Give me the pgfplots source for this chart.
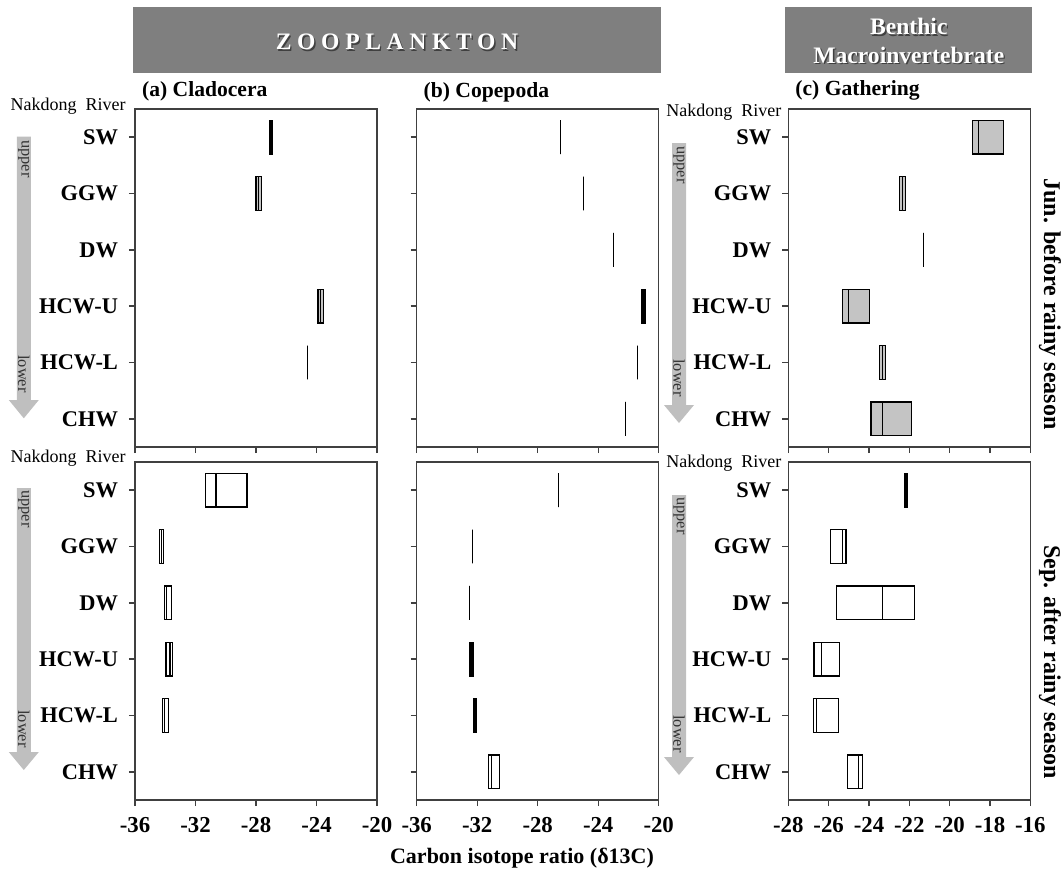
\documentclass[border=0pt]{standalone}
\usepackage{fontspec}
\setmainfont{Liberation Serif}
\newfontfamily\spaced[LetterSpace=24]{Liberation Serif}
\usepackage{pgfplots}
\pgfplotsset{compat=1.18}
\usepgfplotslibrary{statistics}

\definecolor{hdr}{HTML}{7F7F7F}
\definecolor{arrowgray}{HTML}{BFBFBF}
\definecolor{boxgray}{HTML}{C4C4C4}

% \bx[fill]{position}{lower quartile}{median}{upper quartile}
\newcommand{\bx}[5][white]{\addplot[draw=black,line width=0.6pt,fill=#1,
  boxplot prepared={draw position=#2,lower whisker=#3,lower quartile=#3,
  median=#4,upper quartile=#5,upper whisker=#5}] coordinates {};}

\newcommand{\riverarrow}[4]{% x, top, base, tip (pt)
  \fill[arrowgray] (#1pt-3.5pt,#2pt) -- (#1pt+3.5pt,#2pt) -- (#1pt+3.5pt,#3pt)
   -- (#1pt+7.5pt,#3pt) -- (#1pt,#4pt) -- (#1pt-7.5pt,#3pt) -- (#1pt-3.5pt,#3pt) -- cycle;}

\pgfplotsset{
  panel/.style={scale only axis, width=121pt, height=169pt,
    ymin=0.5, ymax=6.5, y dir=reverse, ytick={1,2,3,4,5,6},
    tick align=outside, xtick pos=bottom, ytick pos=left,
    major tick length=3pt,
    axis line style={draw=black!75,line width=0.7pt},
    tick style={draw=black!75,line width=0.7pt},
    yticklabel style={font=\fontsize{11.2}{12}\selectfont\bfseries, xshift=-2pt},
    xticklabel style={font=\fontsize{11.4}{12}\selectfont\bfseries, yshift=-2pt},
    boxplot/draw direction=x, boxplot/box extend=0.6,
    boxplot/whisker extend=0, boxplot/every whisker/.style={draw=none},
    clip=false},
  sites/.style={yticklabels={SW,GGW,DW,HCW-U,HCW-L,CHW}},
  nosites/.style={yticklabels={}},
  zoo/.style={xmin=-36,xmax=-20,xtick={-36,-32,-28,-24,-20}},
  zoolab/.style={xticklabels={-36,-32,-28,-24,-20}},
  ben/.style={xmin=-28,xmax=-16,xtick={-28,-26,-24,-22,-20,-18,-16}},
  benlab/.style={xticklabels={-28,-26,-24,-22,-20,-18,-16}},
  nolab/.style={xticklabels={}},
}

\begin{document}
\begin{tikzpicture}
\path[use as bounding box] (0,0) rectangle (531pt,-437.5pt);

% headers
\fill[hdr] (66.5pt,-3.5pt) rectangle (330.5pt,-36.35pt);
\node[text=black!75,font=\fontsize{11.8}{13}\selectfont\spaced\bfseries] at (199.2pt,-21.7pt) {ZOOPLANKTON};
\node[text=white,font=\fontsize{11.8}{13}\selectfont\spaced\bfseries] at (198.5pt,-21pt) {ZOOPLANKTON};
\fill[hdr] (392.65pt,-3.5pt) rectangle (516.15pt,-36.35pt);
\node[text=black!75,font=\fontsize{11.8}{14}\selectfont\bfseries] at (455.1pt,-14.05pt) {Benthic};
\node[text=white,font=\fontsize{11.8}{14}\selectfont\bfseries] at (454.4pt,-13.35pt) {Benthic};
\node[text=black!75,font=\fontsize{11.8}{14}\selectfont\bfseries] at (455.1pt,-28.2pt) {Macroinvertebrate};
\node[text=white,font=\fontsize{11.8}{14}\selectfont\bfseries] at (454.4pt,-27.5pt) {Macroinvertebrate};

% panel titles
\node[anchor=west,inner sep=0,font=\fontsize{10.8}{12}\selectfont\bfseries] at (70.85pt,-45.85pt) {(a) Cladocera};
\node[anchor=west,inner sep=0,font=\fontsize{10.8}{12}\selectfont\bfseries] at (211.65pt,-46.35pt) {(b) Copepoda};
\node[anchor=west,inner sep=0,font=\fontsize{10.8}{12}\selectfont\bfseries] at (397.5pt,-45pt) {(c) Gathering};

% Nakdong River labels
\foreach \x/\y in {63/-53, 390.85/-55.85, 63/-229.15, 390.85/-231.65}
  \node[anchor=east,inner sep=0,font=\fontsize{9}{10}\selectfont] at (\x pt,\y pt) {Nakdong\ \ River};

% arrows
\riverarrow{11.9}{-68.35}{-200}{-209.15}
\riverarrow{339.5}{-71.5}{-202.5}{-211.5}
\riverarrow{11.9}{-244}{-376}{-385}
\riverarrow{339.5}{-247.5}{-378.5}{-387.5}
\foreach \x/\y in {11.9/-79.5, 339.5/-82.5, 11.9/-254.5, 339.5/-258}
  \node[rotate=-90,inner sep=0,font=\fontsize{8.2}{9}\selectfont,text=black!80] at (\x pt,\y pt) {upper};
\foreach \x/\y in {11.9/-187, 339.5/-189, 11.9/-364.5, 339.5/-367}
  \node[rotate=-90,inner sep=0,font=\fontsize{8.2}{9}\selectfont,text=black!80] at (\x pt,\y pt) {lower};

% right labels
\node[rotate=-90,font=\fontsize{12}{13}\selectfont\bfseries] at (525pt,-152pt) {Jun. before rainy season};
\node[rotate=-90,font=\fontsize{12}{13}\selectfont\bfseries] at (525pt,-331pt) {Sep. after rainy season};

% x label
\node[font=\fontsize{11}{12}\selectfont\bfseries] at (261pt,-429pt) {Carbon isotope ratio (δ13C)};

% ---------- Top row: Jun ----------
\begin{axis}[panel, zoo, sites, nolab, at={(67.5pt,-54.5pt)}, anchor=north west]
\bx[black]{1}{-27.08}{-27.0}{-26.93}
\bx[boxgray]{2}{-28.0}{-27.85}{-27.62}
\bx[boxgray]{4}{-23.9}{-23.72}{-23.53}
\bx[boxgray]{5}{-24.61}{-24.61}{-24.61}
\end{axis}

\begin{axis}[panel, zoo, nosites, nolab, at={(208.35pt,-54.5pt)}, anchor=north west]
\bx[boxgray]{1}{-26.48}{-26.48}{-26.48}
\bx[boxgray]{2}{-24.96}{-24.96}{-24.96}
\bx[boxgray]{3}{-22.99}{-22.99}{-22.99}
\bx[black]{4}{-21.1}{-21.0}{-20.9}
\bx[boxgray]{5}{-21.42}{-21.42}{-21.42}
\bx[boxgray]{6}{-22.17}{-22.17}{-22.17}
\end{axis}

\begin{axis}[panel, ben, sites, nolab, at={(394.15pt,-54.5pt)}, anchor=north west]
\bx[boxgray]{1}{-18.87}{-18.55}{-17.32}
\bx[boxgray]{2}{-22.5}{-22.34}{-22.17}
\bx[boxgray]{3}{-21.31}{-21.31}{-21.31}
\bx[boxgray]{4}{-25.31}{-25.01}{-23.99}
\bx[boxgray]{5}{-23.46}{-23.33}{-23.18}
\bx[boxgray]{6}{-23.9}{-23.33}{-21.89}
\end{axis}

% ---------- Bottom row: Sep ----------
\begin{axis}[panel, zoo, sites, zoolab, at={(67.5pt,-231pt)}, anchor=north west]
\bx{1}{-31.35}{-30.64}{-28.6}
\bx{2}{-34.37}{-34.25}{-34.13}
\bx{3}{-34.04}{-33.9}{-33.58}
\bx{4}{-33.95}{-33.69}{-33.51}
\bx{5}{-34.17}{-34.05}{-33.8}
\end{axis}

\begin{axis}[panel, zoo, nosites, zoolab, at={(208.35pt,-231pt)}, anchor=north west]
\bx{1}{-26.63}{-26.63}{-26.63}
\bx{2}{-32.33}{-32.33}{-32.33}
\bx{3}{-32.53}{-32.53}{-32.53}
\bx[black]{4}{-32.47}{-32.37}{-32.27}
\bx[black]{5}{-32.27}{-32.17}{-32.05}
\bx{6}{-31.27}{-31.03}{-30.53}
\end{axis}

\begin{axis}[panel, ben, sites, benlab, at={(394.15pt,-231pt)}, anchor=north west]
\bx[black]{1}{-22.25}{-22.17}{-22.1}
\bx{2}{-25.9}{-25.31}{-25.14}
\bx{3}{-25.6}{-23.34}{-21.76}
\bx{4}{-26.73}{-26.36}{-25.45}
\bx{5}{-26.76}{-26.59}{-25.51}
\bx{6}{-25.08}{-24.5}{-24.33}
\end{axis}
\end{tikzpicture}
\end{document}
